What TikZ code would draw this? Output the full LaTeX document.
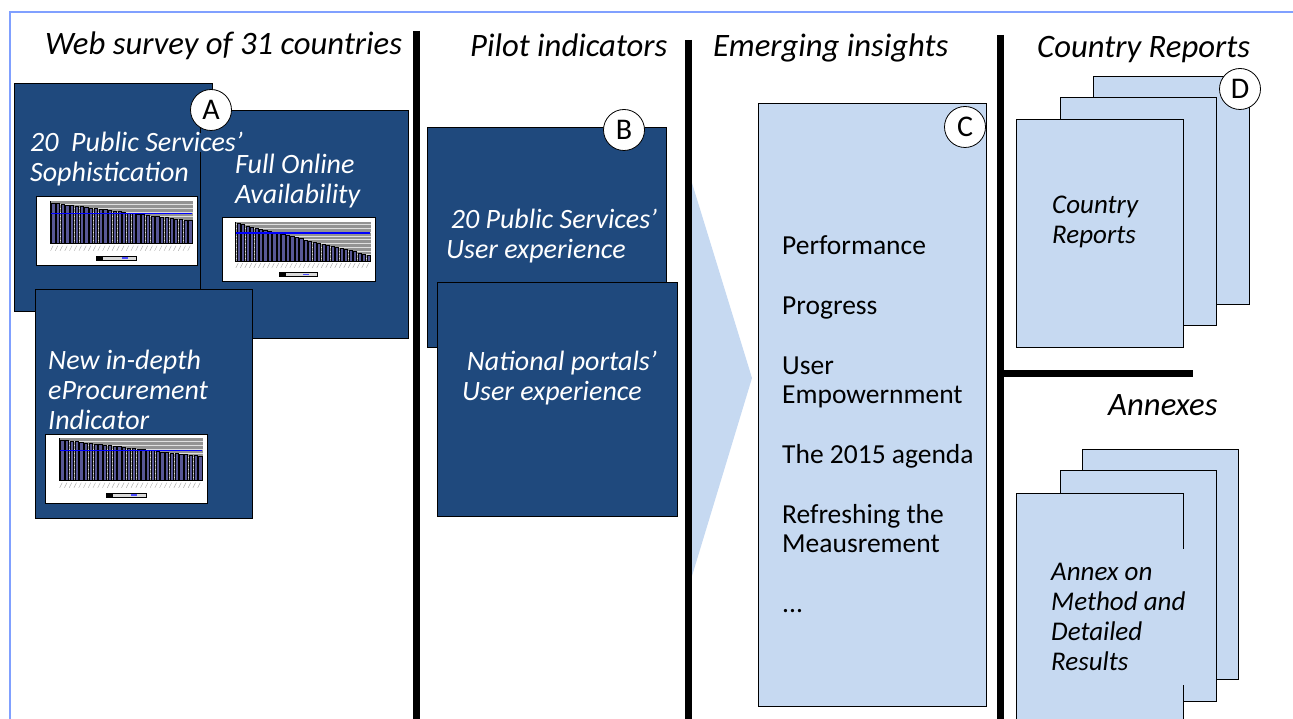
\documentclass[tikz,border=0pt]{standalone}
\usepackage{fontspec}
\setmainfont{Carlito}
\usepackage{tikz}
\usetikzlibrary{positioning}
\definecolor{boxblue}{RGB}{31,73,125}
\definecolor{pageblue}{RGB}{198,217,241}
\definecolor{frameblue}{RGB}{128,160,255}
\definecolor{barfill}{RGB}{88,88,150}
\newcommand{\minichart}[5] % {x}{y}{w}{h}{drop per bar}
{
	\begin{scope}[shift={(#1,#2)}, xscale=#3/160, yscale=#4/68]
		\fill[white] (0,0) rectangle (160,68);
		\fill[gray!85] (14,4) rectangle (156,46);
		\foreach \g in {7,11,...,43} \draw[gray!25, line width=0.5pt] (14,\g) -- (156,\g);
		\foreach \i in {0,...,29}
			\filldraw[fill=barfill, draw=black, line width=0.6pt] ({15.5+\i*4.7},46) rectangle ({18.7+\i*4.7},{6+\i*#5});
		\draw[blue, line width=1.2pt] (15,16) -- (155,16);
		\draw[black, line width=0.6pt] (14,4) -- (14,46) -- (156,46);
		\foreach \i in {0,...,29} \draw[gray!70, line width=0.4pt] ({17+\i*4.7},48) -- ({14.5+\i*4.7},53);
		\filldraw[fill=gray!30, draw=black, line width=0.4pt] (60,58) rectangle (100,62);
		\fill[black] (60,58) rectangle (67,62);
		\fill[blue!70] (85,59) rectangle (91,61);
		\draw[black, line width=1pt] (0,0) rectangle (160,68);
	\end{scope}
}

\begin{document}
\begin{tikzpicture}[x=1pt, y=-1pt,
	darkbox/.style={draw=black, line width=0.8pt, fill=boxblue, anchor=north west, inner sep=0pt},
	page/.style={draw=black, line width=0.8pt, fill=pageblue, anchor=north west, inner sep=0pt, minimum width=156, minimum height=228},
	tag/.style={circle, draw=black, line width=0.8pt, fill=white, minimum size=41, inner sep=0pt, font=\fontsize{30}{30}\selectfont},
	heading/.style={anchor=base west, inner sep=0pt, font=\fontsize{32.7}{36}\selectfont\itshape},
	boxtext/.style={anchor=base west, inner sep=0pt, align=flush left, text=white, font=\fontsize{28}{30}\selectfont\itshape},
	pagetext/.style={anchor=base west, inner sep=0pt, align=flush left, font=\fontsize{27}{30}\selectfont\itshape},
	divider/.style={line width=7pt},
]
	\path[use as bounding box] (0,0) rectangle (1293,719);
	\clip (0,0) rectangle (1293,719);
	\draw[frameblue, line width=2pt] (10,12) rectangle (1320,740);

	% web survey
	\node[heading] (headA) at (45,55) {Web survey of 31 countries};
	\node[darkbox, minimum width=198, minimum height=228] (sophbox) at (14,83) {};
	\minichart{36}{197}{161}{69}{0.6}
	\node[darkbox, minimum width=208, minimum height=228] (onlinebox) at (200,110) {};
	\minichart{222}{218}{153}{64}{1.15}
	\node[boxtext, fill=boxblue] (sophtxt) at (30,152) {20\ \ Public Services’};
	\node[boxtext] (sophtxtb) at (30,182) {Sophistication};
	\node[boxtext] (onlinetxt) at (235,204) {Full Online\\Availability};
	\node[tag] (tagA) at (211,110) {A};
	\node[darkbox, minimum width=217, minimum height=229] (procbox) at (35,289) {};
	\node[boxtext] (proctxt) at (48,429) {New in-depth\\eProcurement\\Indicator};
	\minichart{45}{434}{162}{69}{0.55}

	% pilot indicators
	\node[heading] (headB) at (470,57) {Pilot indicators};
	\node[darkbox, minimum width=239, minimum height=220] (servbox) at (427,127) {};
	\node[boxtext] (servtxt) at (446,259) {\,20 Public Services’\\User experience};
	\node[tag] (tagB) at (624,130) {B};
	\node[darkbox, minimum width=240, minimum height=234] (portbox) at (437,282) {};
	\node[boxtext] (porttxt) at (462,400) {\,National portals’\\User experience};

	% emerging insights
	\fill[pageblue] (692,183) -- (752,378) -- (692,576) -- cycle;
	\node[heading] (headC) at (713,57) {Emerging insights};
	\node[page, minimum width=228, minimum height=603] (insightbox) at (758,103) {};
	\node[tag] (tagC) at (965,127) {C};
	\node[anchor=base west, inner sep=0pt, align=flush left, font=\fontsize{27.5}{29}\selectfont] (insighttxt) at (782,612)
		{Performance\\[31pt]Progress\\[31pt]User\\Empowernment\\[31pt]The 2015 agenda\\[31pt]Refreshing the\\Meausrement\\[31pt]...};

	% country reports
	\node[heading] (headD) at (1037,58) {Country Reports};
	\node[page] (repback) at (1093,76) {};
	\node[page] (repmid) at (1060,97) {};
	\node[page, minimum width=167] (repfront) at (1016,119) {};
	\node[tag] (tagD) at (1240,89) {D};
	\node[pagetext] (reptxt) at (1052,244) {Country\\Reports};

	% annexes
	\node[heading] (headE) at (1108,415) {Annexes};
	\node[page, minimum height=230] (annback) at (1082,449) {};
	\node[page, minimum height=231] (annmid) at (1060,470) {};
	\node[page, minimum width=167, minimum height=230] (annfront) at (1016,493) {};
	\node[pagetext, fill=pageblue, text width=136, minimum height=136, anchor=north west] (anntxt) at (1051,549)
		{Annex on\\Method and\\Detailed\\Results};

	% dividers
	\draw[divider] (416,31) -- (416,719);
	\draw[divider] (688,40) -- (688,719);
	\draw[divider] (1000,35) -- (1000,719);
	\draw[divider] (1000,373) -- (1193,373);
\end{tikzpicture}
\end{document}
